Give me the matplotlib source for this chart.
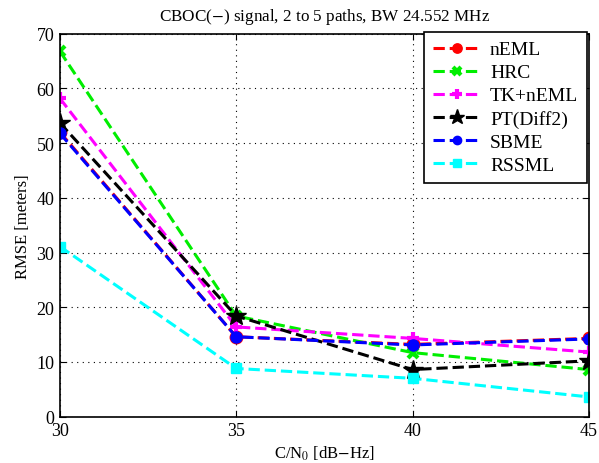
import matplotlib
matplotlib.use('Agg')
import matplotlib.pyplot as plt

plt.rcParams['font.family'] = ['Liberation Serif', 'DejaVu Serif']
plt.rcParams['mathtext.fontset'] = 'stix'

cn0 = [30, 35, 40, 45]
neml = [52.0, 14.6, 13.2, 14.3]
hrc = [66.8, 18.4, 11.7, 8.6]
tk_neml = [58.2, 16.4, 14.3, 11.8]
pt_diff2 = [53.7, 18.4, 8.6, 10.2]
sbme = [51.8, 14.6, 13.1, 14.2]
rssml = [31.1, 8.8, 7.0, 3.6]

fig = plt.figure(figsize=(5.99, 4.64), dpi=100)
ax = fig.add_axes([0.1, 0.1, 0.883, 0.825])

lw = 2.2
ax.plot(cn0, neml, '--', color='red', lw=lw, marker='o', ms=9, mfc='red', mec='red', label='nEML')
ax.plot(cn0, hrc, '--', color='#00ee00', lw=lw, marker='x', ms=7, mew=3, label='HRC')
ax.plot(cn0, tk_neml, '--', color='magenta', lw=lw, marker='+', ms=9, mew=3, label='TK+nEML')
ax.plot(cn0, pt_diff2, '--', color='black', lw=lw, marker='*', ms=15, label='PT(Diff2)')
ax.plot(cn0, sbme, '--', color='blue', lw=lw, marker='o', ms=8, label='SBME')
ax.plot(cn0, rssml, '--', color='cyan', lw=lw, marker='s', ms=7, mfc='cyan', mec='cyan', label='RSSML')

ax.set_xlim(30, 45)
ax.set_ylim(0, 70)
ax.set_xticks([30, 35, 40, 45])
ax.set_yticks(range(0, 71, 10))
ax.grid(True, color='black', linestyle=(0, (1, 4)), lw=0.8)
ax.tick_params(direction='in', top=True, right=True, labelsize=13, length=4, pad=4)
for s in ax.spines.values():
    s.set_linewidth(1.2)

ax.set_xlabel('C/N$_0$ [dB$-$Hz]', fontsize=12, labelpad=3)
ax.set_ylabel('RMSE [meters]', fontsize=12)
ax.set_title('CBOC($-$) signal, 2 to 5 paths, BW 24.552 MHz', fontsize=12.3, pad=10)

leg = ax.legend(loc='upper right', bbox_to_anchor=(587 / 599, 1 - 33 / 464),
                bbox_transform=fig.transFigure, borderaxespad=0,
                fontsize=14, fancybox=False, edgecolor='black', framealpha=1,
                handlelength=2.5, handletextpad=0.45, labelspacing=0.28,
                borderpad=0.45)
leg.get_frame().set_linewidth(1.2)
for h in leg.legend_handles:
    h.set_markersize(h.get_markersize() * 0.75)

fig.savefig('out.png', dpi=100)
